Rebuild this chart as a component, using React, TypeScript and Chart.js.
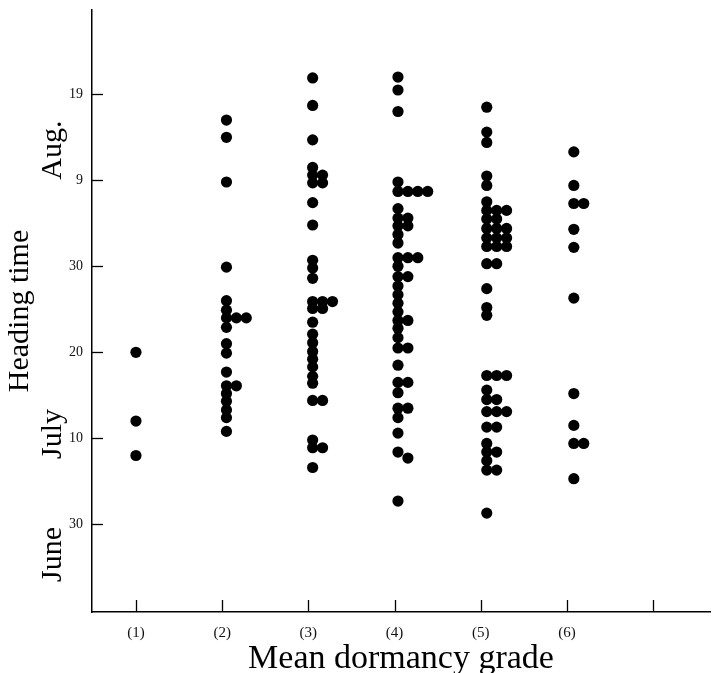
import { useEffect, useRef } from "react";
import { Chart, registerables } from "chart.js";

Chart.register(...registerables);

// ---- data ----
const grades = [1, 2, 3, 4, 5, 6];
const xTickValues = [1, 2, 3, 4, 5, 6, 7];
const xTickLabels = ["(1)", "(2)", "(3)", "(4)", "(5)", "(6)", ""];
// days counted from June 30 (0)
const yTickValues = [0, 10, 20, 30, 40, 50];
const yTickLabels = ["30", "10", "20", "30", "9", "19"];
const monthNames = ["June", "July", "Aug."];
const monthCentres = [-3.5, 10.5, 43.5];

// heading day for each plant line, and its side-by-side lane when days coincide
const g1Days = [20, 12, 8];
const g1Lanes = [0, 0, 0];

const g2Days = [47, 45, 39.8, 29.9, 26, 24.9, 24, 24, 24, 22.9, 21, 19.9, 17.7, 16.1, 16.1, 15.2, 14.3, 13.3, 12.4, 10.8];
const g2Lanes = [0, 0, 0, 0, 0, 0, 0, 1, 2, 0, 0, 0, 0, 0, 1, 0, 0, 0, 0, 0];

const g3Days = [51.9, 48.7, 44.7, 41.5, 40.6, 40.6, 39.7, 39.7, 37.4, 34.8, 30.7, 29.8, 28.6, 25.9, 25.9, 25.9, 25.1, 25.1, 23.5, 22.1, 21.1, 20.1, 19.2, 18.3, 17.2, 16.4, 14.4, 14.4, 9.8, 8.9, 8.9, 6.6];
const g3Lanes = [0, 0, 0, 0, 0, 1, 0, 1, 0, 0, 0, 0, 0, 0, 1, 2, 0, 1, 0, 0, 0, 0, 0, 0, 0, 0, 0, 1, 0, 0, 1, 0];

const g4Days = [52, 50.5, 48, 39.8, 38.7, 38.7, 38.7, 38.7, 36.7, 35.6, 35.6, 34.7, 34.7, 33.7, 32.7, 31, 31, 31, 30, 28.8, 28.8, 27.7, 26.7, 25.7, 24.7, 23.7, 23.7, 22.8, 21.7, 20.5, 20.5, 18.5, 16.5, 16.5, 15.3, 13.5, 13.5, 12.4, 10.6, 8.4, 7.7, 2.7];
const g4Lanes = [0, 0, 0, 0, 0, 1, 2, 3, 0, 0, 1, 0, 1, 0, 0, 0, 1, 2, 0, 0, 1, 0, 0, 0, 0, 0, 1, 0, 0, 0, 1, 0, 0, 1, 0, 0, 1, 0, 0, 0, 1, 0];

const g5Days = [48.5, 45.6, 44.4, 40.5, 39.4, 37.5, 36.5, 36.5, 36.5, 35.5, 35.5, 34.4, 34.4, 34.4, 33.3, 33.3, 33.3, 32.3, 32.3, 32.3, 30.3, 30.3, 27.4, 25.2, 24.3, 17.3, 17.3, 17.3, 15.6, 14.5, 14.5, 13.1, 13.1, 13.1, 11.3, 11.3, 9.4, 8.4, 8.4, 7.4, 6.3, 6.3, 1.3];
const g5Lanes = [0, 0, 0, 0, 0, 0, 0, 1, 2, 0, 1, 0, 1, 2, 0, 1, 2, 0, 1, 2, 0, 1, 0, 0, 0, 0, 1, 2, 0, 0, 1, 0, 1, 2, 0, 1, 0, 0, 1, 0, 0, 1, 0];

const g6Days = [43.3, 39.4, 37.3, 37.3, 34.3, 32.2, 26.3, 15.2, 11.5, 9.4, 9.4, 5.3];
const g6Lanes = [0, 0, 0, 1, 0, 0, 0, 0, 0, 0, 1, 0];

const allDays = [g1Days, g2Days, g3Days, g4Days, g5Days, g6Days];
const allLanes = [g1Lanes, g2Lanes, g3Lanes, g4Lanes, g5Lanes, g6Lanes];
const columnShift = [0, 0.05, 0.05, 0.04, 0.07, 0.08];
const laneStep = 0.115;

const SERIF = "'Liberation Serif', 'DejaVu Serif', serif";

const decorations = {
  id: "decorations",
  afterDraw(chart: any) {
    const { ctx, chartArea, scales } = chart;
    const x = scales.x;
    const y = scales.y;
    ctx.save();
    ctx.strokeStyle = "#000";
    ctx.lineWidth = 1.3;
    yTickValues.forEach((v) => {
      const py = Math.round(y.getPixelForValue(v)) + 0.5;
      ctx.beginPath();
      ctx.moveTo(chartArea.left, py);
      ctx.lineTo(chartArea.left + 11, py);
      ctx.stroke();
    });
    xTickValues.forEach((v) => {
      const px = Math.round(x.getPixelForValue(v)) + 0.5;
      ctx.beginPath();
      ctx.moveTo(px, chartArea.bottom);
      ctx.lineTo(px, chartArea.bottom - 12);
      ctx.stroke();
    });
    ctx.fillStyle = "#000";
    ctx.font = `30px ${SERIF}`;
    ctx.textAlign = "center";
    ctx.textBaseline = "middle";
    monthNames.forEach((m, i) => {
      const py = y.getPixelForValue(monthCentres[i]);
      ctx.save();
      ctx.translate(53, py);
      ctx.rotate(-Math.PI / 2);
      ctx.fillText(m, 0, 0);
      ctx.restore();
    });
    ctx.restore();
  },
};

export default function App() {
  const ref = useRef<HTMLCanvasElement | null>(null);

  useEffect(() => {
    document.body.style.margin = "0";
    const canvas = ref.current;
    if (!canvas) return;
    const datasets = grades.map((g, gi) => ({
      label: `(${g})`,
      data: allDays[gi].map((d, i) => ({
        x: g + columnShift[gi] + allLanes[gi][i] * laneStep,
        y: d,
      })),
      backgroundColor: "#000",
      borderColor: "#000",
      borderWidth: 0,
      pointRadius: 5.6,
      pointHoverRadius: 5.6,
      showLine: false,
    }));

    const chart = new Chart(canvas, {
      type: "scatter",
      data: { datasets },
      plugins: [decorations],
      options: {
        animation: false,
        responsive: false,
        devicePixelRatio: 1,
        layout: { padding: { left: 0, right: 6, top: 10, bottom: 0 } },
        plugins: {
          legend: { display: false },
          tooltip: { enabled: false },
        },
        scales: {
          x: {
            type: "linear",
            min: 0.49,
            max: 7.66,
            afterBuildTicks: (scale: any) => {
              scale.ticks = xTickValues.map((v) => ({ value: v }));
            },
            afterFit: (scale: any) => {
              scale.height = 61;
              scale.paddingLeft = 0;
              scale.paddingRight = 0;
            },
            grid: { drawOnChartArea: false, drawTicks: false },
            border: { display: true, color: "#000", width: 1.5 },
            ticks: {
              padding: 12,
              color: "#111",
              font: { family: SERIF, size: 15 },
              callback: (v: any) => {
                const i = xTickValues.indexOf(Number(v));
                return i >= 0 ? xTickLabels[i] : "";
              },
            },
            title: {
              display: true,
              text: "Mean dormancy grade",
              color: "#000",
              font: { family: SERIF, size: 34, lineHeight: 0.8 },
              padding: { top: 0, bottom: 0 },
            },
          },
          y: {
            type: "linear",
            min: -10.2,
            max: 59.8,
            afterBuildTicks: (scale: any) => {
              scale.ticks = yTickValues.map((v) => ({ value: v }));
            },
            afterFit: (scale: any) => {
              scale.width = 92;
              scale.paddingTop = 0;
              scale.paddingBottom = 0;
            },
            grid: { drawOnChartArea: false, drawTicks: false },
            border: { display: true, color: "#000", width: 1.5 },
            ticks: {
              padding: 9,
              color: "#111",
              font: { family: SERIF, size: 14 },
              callback: (v: any) => {
                const i = yTickValues.indexOf(Number(v));
                return i >= 0 ? yTickLabels[i] : "";
              },
            },
            title: {
              display: true,
              text: "Heading time",
              color: "#000",
              font: { family: SERIF, size: 30, lineHeight: 1.2 },
              padding: { top: 2, bottom: 0 },
            },
          },
        },
      },
    });
    return () => chart.destroy();
  }, []);

  return (
    <div style={{ position: "absolute", left: 0, top: 0, width: 716, height: 673 }}>
      <canvas ref={ref} width={716} height={673} style={{ width: 716, height: 673 }} />
    </div>
  );
}
